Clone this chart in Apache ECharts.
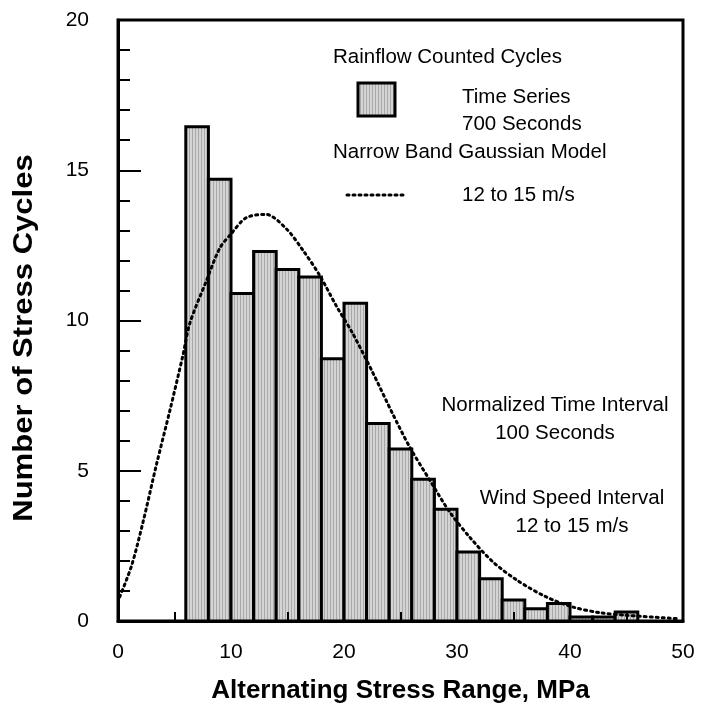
<!DOCTYPE html>
<html>
<head>
<meta charset="utf-8">
<script src="https://cdn.jsdelivr.net/npm/echarts@6/dist/echarts.min.js"></script>
<style>
html,body{margin:0;padding:0;background:#fff;}
#chart{width:701px;height:709px;}
</style>
</head>
<body>
<div id="chart"></div>
<script>
// Histogram bins (MPa): bin start values, bin width 2
var binStarts = [6, 8, 10, 12, 14, 16, 18, 20, 22, 24, 26, 28, 30, 32, 34, 36, 38, 40, 42, 44];
var binWidth = 2;
var cycleCounts = [16.45, 14.7, 10.9, 12.3, 11.7, 11.45, 8.73, 10.57, 6.57, 5.72, 4.72, 3.72, 2.3, 1.41, 0.7, 0.41, 0.58, 0.13, 0.13, 0.3];

// Narrow band Gaussian model curve
var modelX = [0.15, 1.2, 2.2, 3.4, 4.6, 5.75, 6.35, 7.8, 9.0, 10.0, 11.35, 13.1, 14.9, 16.4, 17.85, 19.3, 20.8, 22.5, 24.3, 25.8, 27.6, 29.35, 31.1, 33.2, 35.3, 37.9, 40.3, 42.6, 45.0, 49.4];
var modelY = [0.8, 1.84, 3.27, 5.2, 7.02, 8.85, 9.9, 11.3, 12.4, 12.88, 13.42, 13.53, 13.05, 12.32, 11.5, 10.5, 9.55, 8.3, 6.9, 5.8, 4.68, 3.63, 2.8, 1.96, 1.36, 0.8, 0.46, 0.28, 0.19, 0.08];

var xTicks = [0, 10, 20, 30, 40, 50];
var yTicks = [0, 5, 10, 15, 20];

function makePattern() {
  var c = document.createElement('canvas');
  c.width = 3; c.height = 3;
  var ctx = c.getContext('2d');
  ctx.fillStyle = '#d4d4d4';
  ctx.fillRect(0, 0, 3, 3);
  ctx.fillStyle = '#a8a8a8';
  ctx.fillRect(0, 0, 1, 3);
  return c;
}
var pat = makePattern();
var fillPattern = { image: pat, repeat: 'repeat' };

var barData = binStarts.map(function (s, i) { return [s, s + binWidth, cycleCounts[i]]; });
var curveData = modelX.map(function (x, i) { return [x, modelY[i]]; });

var FONT = '"Liberation Sans", Arial, Helvetica, sans-serif';
var TXT = '20.5px ' + FONT;

function label(text, x, y, align) {
  return { type: 'text', x: x, y: y, style: { text: text, font: TXT, fill: '#000', align: align, verticalAlign: 'middle' } };
}

var chart = echarts.init(document.getElementById('chart'), null, { renderer: 'canvas' });
chart.setOption({
  animation: false,
  backgroundColor: '#ffffff',
  grid: {
    left: 118, right: 18, top: 20, bottom: 88,
    show: true, borderColor: '#000', borderWidth: 3, backgroundColor: 'transparent'
  },
  xAxis: {
    type: 'value', min: xTicks[0], max: xTicks[xTicks.length - 1], interval: 10,
    z: 10,
    axisLine: { show: true, onZero: false, lineStyle: { color: '#000', width: 3 } },
    axisTick: { show: true, inside: true, length: 12, lineStyle: { color: '#000', width: 2 } },
    minorTick: { show: true, splitNumber: 2, length: 9, lineStyle: { color: '#000', width: 2 } },
    splitLine: { show: false },
    axisLabel: { color: '#000', fontSize: 21, fontFamily: FONT, margin: 21 },
    name: 'Alternating Stress Range, MPa',
    nameLocation: 'middle', nameGap: 57,
    nameTextStyle: { color: '#000', fontSize: 26, fontWeight: 'bold', fontFamily: FONT }
  },
  yAxis: {
    type: 'value', min: yTicks[0], max: yTicks[yTicks.length - 1], interval: 5,
    z: 10,
    axisLine: { show: true, onZero: false, lineStyle: { color: '#000', width: 3 } },
    axisTick: { show: true, inside: true, length: 23, lineStyle: { color: '#000', width: 2 } },
    minorTick: { show: true, splitNumber: 5, length: 12, lineStyle: { color: '#000', width: 2 } },
    splitLine: { show: false },
    axisLabel: { color: '#000', fontSize: 21, fontFamily: FONT, margin: 29 }
  },
  series: [
    {
      type: 'custom',
      name: 'Rainflow',
      z: 2,
      clip: true,
      renderItem: function (params, api) {
        var p0 = api.coord([api.value(0), 0]);
        var p1 = api.coord([api.value(1), api.value(2)]);
        return {
          type: 'rect',
          shape: { x: p0[0], y: p1[1], width: p1[0] - p0[0], height: p0[1] - p1[1] },
          style: { fill: fillPattern, stroke: '#000', lineWidth: 3 }
        };
      },
      encode: { x: [0, 1], y: 2 },
      data: barData
    },
    {
      type: 'line',
      name: 'Model',
      z: 5,
      smooth: 0.3,
      symbol: 'none',
      lineStyle: { color: '#000', width: 3, type: [2, 4], cap: 'round' },
      data: curveData
    }
  ],
  graphic: [
    label('Rainflow Counted Cycles', 333, 57, 'left'),
    { type: 'rect', shape: { x: 358, y: 83, width: 37, height: 33 }, style: { fill: fillPattern, stroke: '#000', lineWidth: 3 } },
    label('Time Series', 462, 97, 'left'),
    label('700 Seconds', 462, 124, 'left'),
    label('Narrow Band Gaussian Model', 333, 152, 'left'),
    { type: 'line', shape: { x1: 347, y1: 195, x2: 406, y2: 195 }, style: { stroke: '#000', lineWidth: 3, lineDash: [2, 4], lineCap: 'round' } },
    label('12 to 15 m/s', 462, 195, 'left'),
    label('Normalized Time Interval', 555, 405, 'center'),
    label('100 Seconds', 555, 433, 'center'),
    label('Wind Speed Interval', 572, 498, 'center'),
    label('12 to 15 m/s', 572, 526, 'center'),
    { type: 'text', x: 25, y: 338, rotation: Math.PI / 2, scaleX: 1.15,
      style: { text: 'Number of Stress Cycles', font: 'bold 27px ' + FONT, fill: '#000', align: 'center', verticalAlign: 'middle' } }
  ]
});
</script>
</body>
</html>
